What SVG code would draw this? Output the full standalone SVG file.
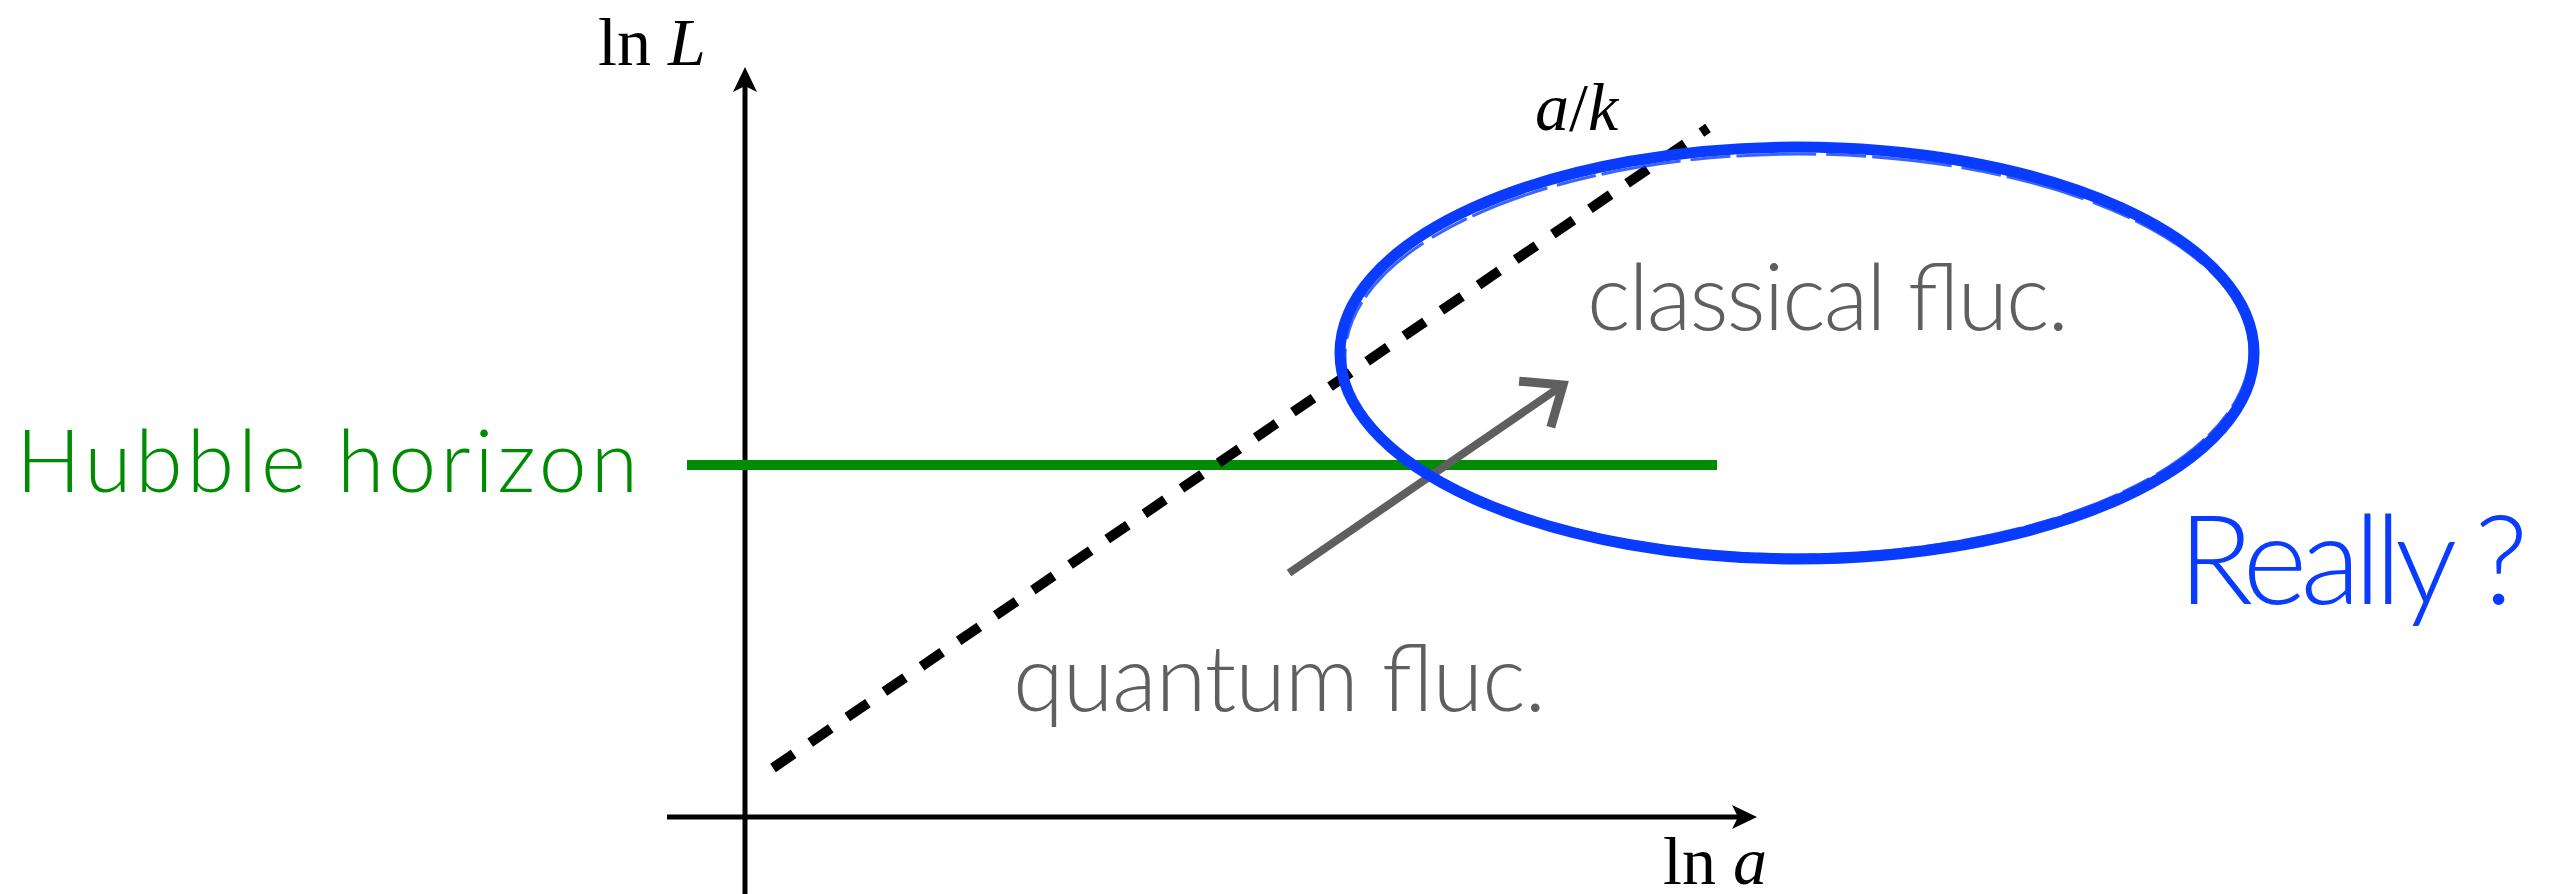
<svg xmlns="http://www.w3.org/2000/svg" width="2564" height="894" viewBox="0 0 2564 894">
<style>
.axis{stroke:#000;stroke-width:5;fill:none}
.math{font-family:"Liberation Serif","DejaVu Serif",serif;font-size:68px;fill:#000}
.it{font-style:italic}
.sans{font-family:Lato,"Open Sans","Noto Sans",sans-serif;font-weight:300}
.gray{fill:#5f5f5f}
.blue{stroke:#0a3cff;fill:none}
</style>
<defs>
<marker id="axhead" markerUnits="userSpaceOnUse" markerWidth="30" markerHeight="30" refX="6" refY="0" orient="auto" overflow="visible">
<path d="M0,-12 L25,0 L0,12 L6,0 Z" fill="#000"/>
</marker>
<marker id="grayhead" markerUnits="userSpaceOnUse" markerWidth="60" markerHeight="60" refX="0" refY="0" orient="auto" overflow="visible">
<path d="M-34,-28 L0,0 L-34,28" fill="none" stroke="#5f5f5f" stroke-width="9" stroke-linejoin="miter"/>
</marker>
</defs>
<rect width="2564" height="894" fill="#fff"/>
<g id="connectors">
<line id="x-axis" class="axis" x1="667" y1="817" x2="1738" y2="817" marker-end="url(#axhead)"/>
<line id="y-axis" class="axis" x1="745" y1="894" x2="745" y2="86" marker-end="url(#axhead)"/>
<line id="hubble-line" x1="687" y1="465" x2="1717" y2="465" stroke="#008c00" stroke-width="10"/>
<line id="ak-line" x1="773" y1="768" x2="1708" y2="128" stroke="#000" stroke-width="10" stroke-dasharray="25 20"/>
<line id="fluc-arrow" x1="1289" y1="573" x2="1563" y2="385" stroke="#5f5f5f" stroke-width="8" marker-end="url(#grayhead)"/>
</g>
<g id="ellipse">
<ellipse class="blue" cx="1797" cy="353" rx="457" ry="206" stroke-width="11"/>
<ellipse class="blue" cx="1795" cy="350" rx="455" ry="205" stroke-width="3" stroke-dasharray="60 8 30 5" opacity="0.8"/>
<ellipse class="blue" cx="1799" cy="357" rx="454" ry="203" stroke-width="3" stroke-dasharray="40 6 80 10" opacity="0.8"/>
</g>
<g id="label-lnL"><text class="math" x="598" y="65">ln <tspan class="it">L</tspan></text></g>
<g id="label-lna"><text class="math" x="1663" y="884">ln <tspan class="it">a</tspan></text></g>
<g id="label-ak"><text class="math" x="1535" y="130" font-size="74"><tspan class="it">a</tspan>/<tspan class="it">k</tspan></text></g>
<g id="hubble"><text class="sans" x="16" y="492" font-size="86" fill="#008c00" textLength="622">Hubble horizon</text></g>
<g id="classical"><text class="sans gray" x="1587" y="330" font-size="92" textLength="482">classical fluc.</text></g>
<g id="quantum"><text class="sans gray" x="1013" y="711" font-size="92" textLength="533">quantum fluc.</text></g>
<g id="really"><text class="sans" x="2178" y="604" font-size="124" fill="#0a3cff" textLength="350">Really ?</text></g>
</svg>
